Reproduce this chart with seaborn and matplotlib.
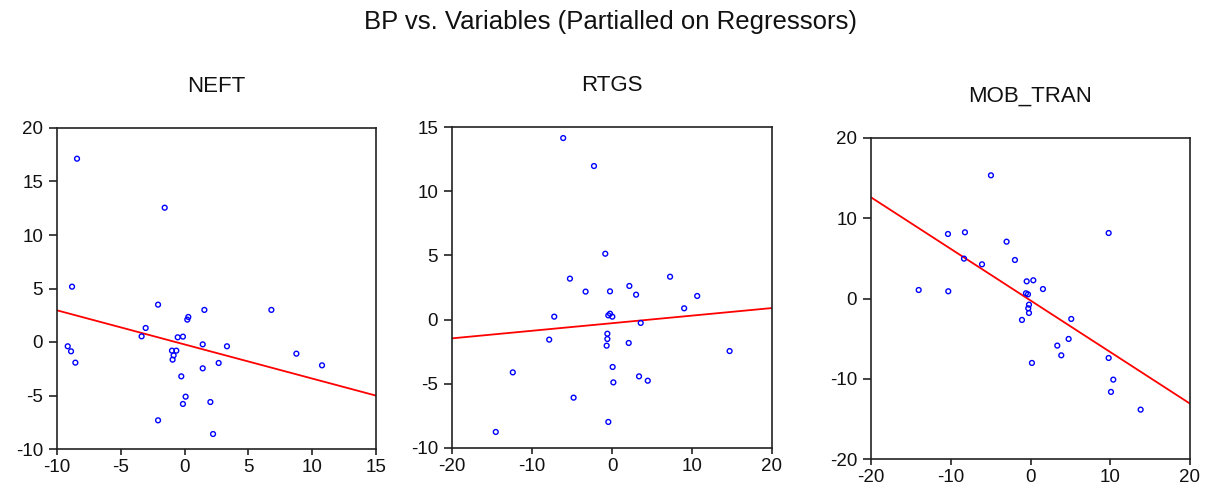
import matplotlib
matplotlib.use("Agg")
import matplotlib.pyplot as plt
import seaborn as sns
import pandas as pd

# ---------------- data ----------------
neft_x = [-8.43, -1.56, -8.82, -2.08, 1.55, 6.80, 0.29, 0.21, -3.05, -3.37,
          -0.54, -0.13, -9.16, -8.90, 1.42, 3.32, -0.99, -0.65, -0.86, -0.94,
          8.76, -8.56, 2.67, 1.42, 10.77, -0.26, 0.08, -0.13, 2.02, -2.08, 2.23]
neft_y = [17.13, 12.55, 5.17, 3.49, 3.00, 3.00, 2.34, 2.09, 1.31, 0.53,
          0.44, 0.50, -0.40, -0.87, -0.22, -0.40, -0.81, -0.81, -1.25, -1.65,
          -1.09, -1.93, -1.96, -2.46, -2.18, -3.21, -5.11, -5.79, -5.61, -7.32, -8.60]
neft_fit_x = [-10, 15]
neft_fit_y = [2.96, -5.01]

rtgs_x = [-6.10, -2.25, -0.84, -5.26, 7.26, 2.17, -3.30, -0.25, 3.01, 10.65,
          9.02, -7.22, -0.46, -0.25, 0.04, 3.59, -7.85, -0.58, -0.58, -0.67,
          2.09, 14.70, -12.40, 0.08, 3.38, 4.47, 0.17, -4.80, -0.46, -14.53]
rtgs_y = [14.14, 11.96, 5.13, 3.19, 3.34, 2.62, 2.18, 2.20, 1.94, 1.84,
          0.88, 0.23, 0.33, 0.46, 0.23, -0.26, -1.56, -1.10, -1.51, -2.03,
          -1.82, -2.45, -4.11, -3.69, -4.42, -4.76, -4.89, -6.08, -7.97, -8.75]
rtgs_fit_x = [-20, 20]
rtgs_fit_y = [-1.46, 0.90]

mob_x = [-4.96, 9.80, -10.35, -8.22, -3.00, -1.95, -8.34, -6.08, -14.02, -10.31,
         -0.48, 0.35, 1.56, -0.57, -0.32, -0.19, -0.28, -0.19, -1.07, 5.11,
         4.78, 3.36, 3.86, 0.18, 9.80, 10.38, 10.09, 13.81]
mob_y = [15.35, 8.16, 8.04, 8.25, 7.08, 4.80, 4.97, 4.26, 1.06, 0.90,
         2.14, 2.27, 1.18, 0.65, 0.52, -0.77, -1.22, -1.80, -2.67, -2.55,
         -5.04, -5.87, -7.08, -8.03, -7.41, -10.11, -11.64, -13.85]
mob_fit_x = [-20, 20]
mob_fit_y = [12.61, -13.10]

titles = ["NEFT", "RTGS", "MOB_TRAN"]
suptitle = "BP vs. Variables (Partialled on Regressors)"
xticks = [[-10, -5, 0, 5, 10, 15], [-20, -10, 0, 10, 20], [-20, -10, 0, 10, 20]]
yticks = [[-10, -5, 0, 5, 10, 15, 20], [-10, -5, 0, 5, 10, 15], [-20, -10, 0, 10, 20]]
xlims = [(-10, 15), (-20, 20), (-20, 20)]
ylims = [(-10, 20), (-10, 15), (-20, 20)]

# ---------------- drawing ----------------
sns.set_theme(style="white")
plt.rcParams['font.family'] = ['Liberation Sans', 'DejaVu Sans']
plt.rcParams['axes.unicode_minus'] = False

W, H = 1206, 491
fig = plt.figure(figsize=(W / 100, H / 100), dpi=100)

# axes boxes in pixels: left, top, right, bottom
boxes = [(57, 128, 376, 449), (452, 127, 772, 448), (871, 138, 1190, 459)]

series = [(neft_x, neft_y, neft_fit_x, neft_fit_y),
          (rtgs_x, rtgs_y, rtgs_fit_x, rtgs_fit_y),
          (mob_x, mob_y, mob_fit_x, mob_fit_y)]

for i, (l, t, r, b) in enumerate(boxes):
    ax = fig.add_axes([l / W, (H - b) / H, (r - l) / W, (b - t) / H])
    sx, sy, fx, fy = series[i]
    pts = pd.DataFrame({"x": sx, "y": sy})
    fit = pd.DataFrame({"x": fx, "y": fy})
    sns.lineplot(data=fit, x="x", y="y", ax=ax, color="#ff0000", linewidth=1.3, zorder=2)
    sns.scatterplot(data=pts, x="x", y="y", ax=ax, marker="o", s=12,
                    facecolors="none", edgecolor="#0000ff", linewidth=1.0, zorder=3)
    ax.set_xlim(*xlims[i])
    ax.set_ylim(*ylims[i])
    ax.set_xticks(xticks[i])
    ax.set_yticks(yticks[i])
    ax.set_xlabel("")
    ax.set_ylabel("")
    ax.set_title(titles[i], fontsize=16, pad=26, color="#111111")
    for sp in ax.spines.values():
        sp.set_visible(True)
        sp.set_color("#222222")
        sp.set_linewidth(1.2)
    ax.tick_params(axis="y", left=True, direction="out", length=6, width=1.2,
                   color="#222222", labelsize=13.5, pad=4, labelcolor="#111111")
    ax.tick_params(axis="x", bottom=True, direction="out", length=4, width=1.2,
                   color="#222222", labelsize=13.5, pad=3, labelcolor="#111111")
    ax.grid(False)

fig.text(611 / W, 1 - 22 / H, suptitle, ha="center", va="center", fontsize=18.5, color="#111111")

fig.savefig("out.png", dpi=100, facecolor="white")
